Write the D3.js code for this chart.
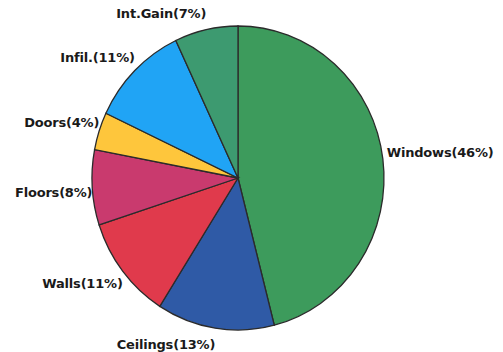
<!DOCTYPE html>
<html>
<head>
<meta charset="utf-8">
<script src="https://cdn.jsdelivr.net/npm/d3@7"></script>
<style>
  body { margin: 0; background: #fff; }
  text { font-family: "DejaVu Sans", sans-serif; font-weight: bold; font-size: 13px; fill: #1a1a1a; letter-spacing: -0.2px; }
</style>
</head>
<body>
<svg id="grafico"></svg>
<script>
// datos (sentido horario desde arriba)
const categorias = ["Windows", "Ceilings", "Walls", "Floors", "Doors", "Infil.", "Int.Gain"];
const porcentajes = [46, 13, 11, 8, 4, 11, 7];
const colores = ["#3d9b5c", "#2f5aa6", "#e03a4c", "#c93a6e", "#fec63c", "#20a4f5", "#3d9a70"];

const WIDTH = 503,
  HEIGHT = 352;

const radioX = 146,
  radioY = 152;
const centro = { x: 238, y: 178 };

const svg = d3.select("#grafico")
  .attr("width", WIDTH)
  .attr("height", HEIGHT);

const datos = categorias.map((c, i) => ({ nombre: c, valor: porcentajes[i], color: colores[i] }));

const pie = d3.pie()
  .value(d => d.valor)
  .sort(null);

const arco = d3.arc()
  .innerRadius(0)
  .outerRadius(radioX);

const arcos = pie(datos);

// el pastel es levemente ovalado, se escala en y
const contenedorPie = svg.append("g")
  .attr("transform", `translate(${centro.x} ${centro.y}) scale(1 ${radioY / radioX})`);

contenedorPie.selectAll("path")
  .data(arcos)
  .join("path")
  .attr("d", arco)
  .attr("fill", d => d.data.color)
  .attr("stroke", "#2b2b2b")
  .attr("stroke-width", 1.3)
  .attr("vector-effect", "non-scaling-stroke");

// etiquetas afuera del borde
const contenedorEtiquetas = svg.append("g")
  .attr("transform", `translate(${centro.x} ${centro.y})`);

const anguloMedio = d => (d.startAngle + d.endAngle) / 2;

contenedorEtiquetas.selectAll("text")
  .data(arcos)
  .join("text")
  .attr("x", d => {
    const a = anguloMedio(d);
    return Math.sin(a) * (a < Math.PI ? radioX + 4 : radioX);
  })
  .attr("y", d => {
    const a = anguloMedio(d);
    const y = -Math.cos(a) * (radioY + 12);
    // las de la mitad inferior cuelgan bajo el punto
    return Math.cos(a) < 0 ? y + 9 : y;
  })
  .attr("text-anchor", d => anguloMedio(d) < Math.PI ? "start" : "end")
  .text(d => `${d.data.nombre}(${d.data.valor}%)`);
</script>
</body>
</html>
